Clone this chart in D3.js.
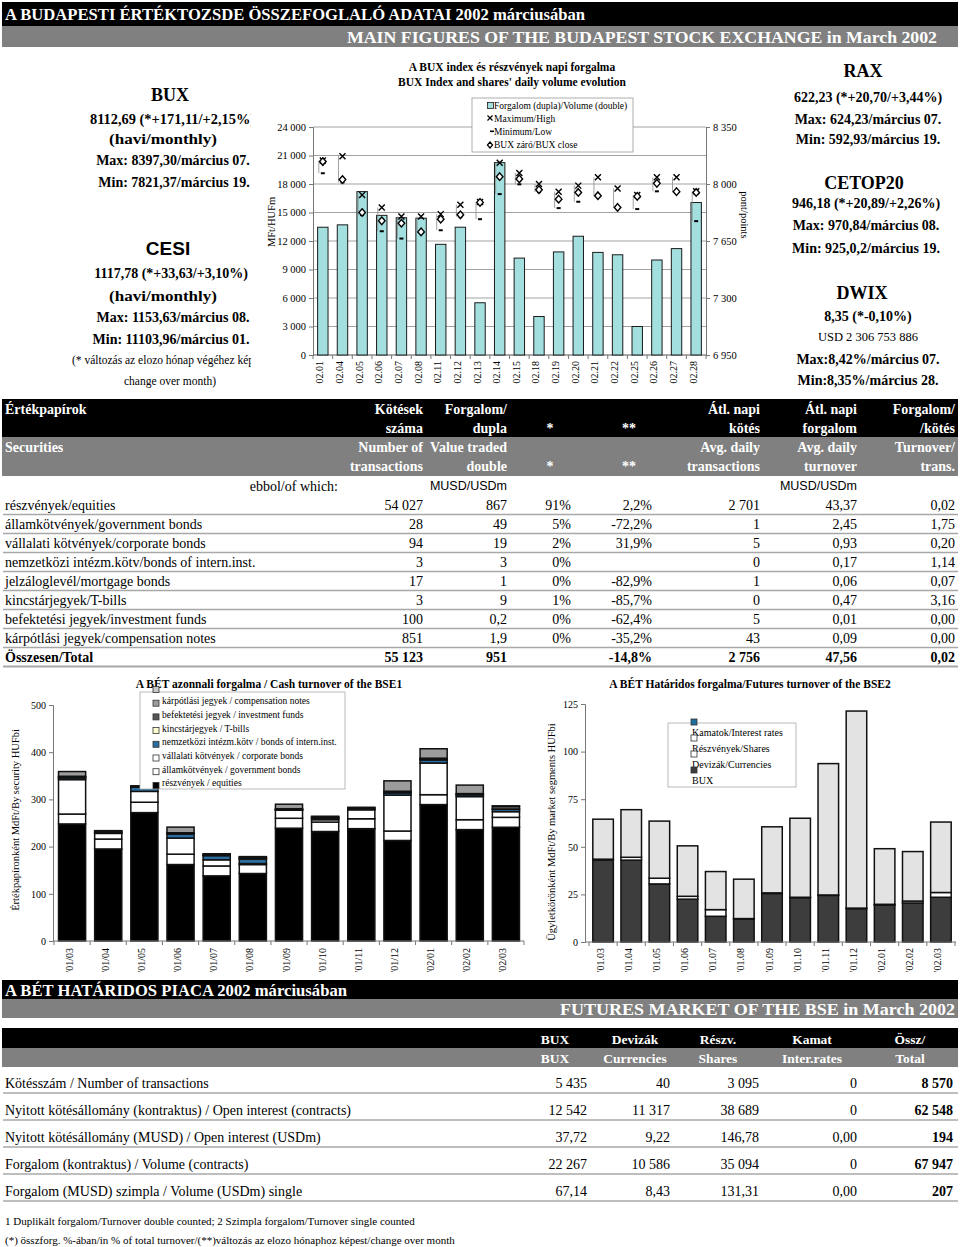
<!DOCTYPE html>
<html><head><meta charset="utf-8">
<script src="https://cdn.jsdelivr.net/npm/d3@7"></script>
<style>body{margin:0;background:#fff} svg{display:block}</style>
</head><body>
<svg id="c" width="960" height="1247"></svg>
<script>
// ---------- DATA ----------
const days = ["02.01","02.04","02.05","02.06","02.07","02.08","02.11","02.12","02.13","02.14","02.15","02.18","02.19","02.20","02.21","02.22","02.25","02.26","02.27","02.28"];
const volume = [13450,13700,17200,14700,14450,14400,11650,13450,5500,20250,10200,4050,10850,12500,10800,10550,3000,10000,11200,16050];
const buxHigh = [8144,8171,7932,7856,7800,7800,7815,7873,7890,8130,8068,8000,7953,7990,8041,7973,7932,8041,8041,7955];
const buxLow = [8066,8010,7809,7710,7665,7705,7716,7800,7784,7938,7998,7950,7852,7891,7925,7855,7846,7955,7950,7772];
const buxClose = [8138,8027,7825,7774,7759,7706,7784,7811,7887,8045,8031,7965,7907,7948,7928,7856,7924,8004,7953,7948];
const volTicks = [0,3000,6000,9000,12000,15000,18000,21000,24000];
const ptTicks = [6950,7300,7650,8000,8350];

const cashMonths = ["'01/03","'01/04","'01/05","'01/06","'01/07","'01/08","'01/09","'01/10","'01/11","'01/12","'02/01","'02/02","'02/03"];
const cashEquities = [248,195,272,162,138,143,239,232,238,213,289,236,241];
const cashGovBonds = [21,21,22,22,21,19,21,20,21,20,21,21,21];
const cashCorpBonds = [73,12,23,34,13,2,17,5,19,76,67,49,12];
const cashIntlBonds = [4,2,9,9,9,10,1,3,1,5,7,4,5];
const cashTBills = [0.5,0.3,0.3,0.3,0.3,0.3,0.3,0.3,0.3,0.3,0.3,0.3,0.3];
const cashFunds = [2.5,2,1.5,2,2.5,3.5,2,2.5,3,3,3,2,6];
const cashComp = [10,1.5,1,12,1,1,9.5,1.5,1,22,20,18,1];
const cashLegend = ["","kárpótlási jegyek / compensation notes","befektetési jegyek / investment funds","kincstárjegyek / T-bills","nemzetközi intézm.kötv / bonds of intern.inst.","vállalati kötvények / corporate bonds","államkötvények / government bonds","részvények / equities"];
const cashTicks = [0,100,200,300,400,500];

const futMonths = ["'01.03","'01.04","'01.05","'01.06","'01.07","'01.08","'01.09","'01.10","'01.11","'01.12","'02.01","'02.02","'02.03"];
const futBux = [43,43,30.5,22.5,13.5,12,25.5,23.3,24.5,17.5,19.5,20.5,23.5];
const futCurrencies = [0.5,1.5,3,1.5,3.5,0.3,0.3,0.2,0.2,0.3,0.3,1,2.5];
const futShares = [21,25,30,26.5,20,20.7,34.7,41.5,69,103.5,29.2,26,37];
const futRates = [0,0,0,0,0,0,0,0,0,0,0,0,0];
const futLegend = ["Kamatok/Interest rates","Részvények/Shares","Devizák/Currencies","BUX"];
const futTicks = [0,25,50,75,100,125];

const secLabels = ["részvények/equities","államkötvények/government bonds","vállalati kötvények/corporate bonds","nemzetközi intézm.kötv/bonds of intern.inst.","jelzáloglevél/mortgage bonds","kincstárjegyek/T-bills","befektetési jegyek/investment funds","kárpótlási jegyek/compensation notes","Összesen/Total"];
const secTrans = ["54 027","28","94","3","17","3","100","851","55 123"];
const secValue = ["867","49","19","3","1","9","0,2","1,9","951"];
const secShare = ["91%","5%","2%","0%","0%","1%","0%","0%",""];
const secChange = ["2,2%","-72,2%","31,9%","","-82,9%","-85,7%","-62,4%","-35,2%","-14,8%"];
const secAvgTrans = ["2 701","1","5","0","1","0","5","43","2 756"];
const secAvgTurn = ["43,37","2,45","0,93","0,17","0,06","0,47","0,01","0,09","47,56"];
const secTurnPerTrans = ["0,02","1,75","0,20","1,14","0,07","3,16","0,00","0,00","0,02"];

const futRowLabels = ["Kötésszám / Number of transactions","Nyitott kötésállomány (kontraktus) / Open interest (contracts)","Nyitott kötésállomány (MUSD) / Open interest (USDm)","Forgalom (kontraktus) / Volume (contracts)","Forgalom (MUSD) szimpla / Volume (USDm) single"];
const futColBux = ["5 435","12 542","37,72","22 267","67,14"];
const futColCur = ["40","11 317","9,22","10 586","8,43"];
const futColShares = ["3 095","38 689","146,78","35 094","131,31"];
const futColRates = ["0","0","0,00","0","0,00"];
const futColTotal = ["8 570","62 548","194","67 947","207"];

// ---------- HELPERS ----------
const SERIF = "'Liberation Serif','Times New Roman',serif";
const SANS = "'Liberation Sans',Arial,sans-serif";
const svg = d3.select("#c");
function txt(g, x, y, s, o = {}) {
  const t = g.append("text").attr("x", x).attr("y", y).text(s)
    .attr("font-family", o.family || SERIF).attr("font-size", o.size || 14)
    .attr("font-weight", o.weight || "normal").attr("fill", o.fill || "#000")
    .attr("text-anchor", o.anchor || "start").attr("dominant-baseline", "central");
  if (o.len) t.attr("textLength", o.len).attr("lengthAdjust", "spacingAndGlyphs");
  if (o.rot) t.attr("transform", `rotate(${o.rot},${x},${y})`);
  return t;
}
const spaceFmt = d => d3.format(",")(d).replace(/,/g, " ");

// ---------- HEADER ----------
svg.append("rect").attr("x", 2).attr("y", 2).attr("width", 956).attr("height", 24).attr("fill", "#000");
svg.append("rect").attr("x", 2).attr("y", 26).attr("width", 956).attr("height", 21).attr("fill", "#808080");
txt(svg, 5, 14.5, "A BUDAPESTI ÉRTÉKTOZSDE ÖSSZEFOGLALÓ ADATAI 2002 márciusában", {size: 17, weight: "bold", fill: "#fff", len: 580});
txt(svg, 937, 37, "MAIN FIGURES OF  THE BUDAPEST STOCK EXCHANGE in March 2002", {size: 17, weight: "bold", fill: "#fff", anchor: "end", len: 590});

// ---------- LEFT INDEX BLOCK ----------
svg.append("clipPath").attr("id", "lclip").append("rect").attr("x", 0).attr("y", 60).attr("width", 251).attr("height", 340);
const lb = svg.append("g").attr("clip-path", "url(#lclip)");
txt(lb, 170, 95, "BUX", {size: 18, weight: "bold", anchor: "middle"});
txt(lb, 90, 119, "8112,69 (*+171,11/+2,15%)", {size: 14.4, weight: "bold"});
txt(lb, 163, 139, "(havi/monthly)", {size: 14.5, weight: "bold", anchor: "middle", len: 108});
txt(lb, 173, 160.5, "Max: 8397,30/március 07.", {size: 14, weight: "bold", anchor: "middle"});
txt(lb, 174, 182, "Min: 7821,37/március 19.", {size: 14, weight: "bold", anchor: "middle"});
txt(lb, 168, 248, "CESI", {size: 19, weight: "bold", anchor: "middle", family: SANS});
txt(lb, 171, 273.5, "1117,78 (*+33,63/+3,10%)", {size: 14, weight: "bold", anchor: "middle"});
txt(lb, 163, 295.5, "(havi/monthly)", {size: 14.5, weight: "bold", anchor: "middle", len: 108});
txt(lb, 173, 317, "Max: 1153,63/március 08.", {size: 14, weight: "bold", anchor: "middle"});
txt(lb, 171, 339, "Min: 11103,96/március 01.", {size: 14, weight: "bold", anchor: "middle"});
txt(lb, 72, 360, "(* változás az elozo hónap végéhez képest/", {size: 11.5});
txt(lb, 170, 381, "change over month)", {size: 11.5, anchor: "middle"});

// ---------- RIGHT INDEX BLOCK ----------
const rb = svg.append("g");
const rcx = 866;
txt(rb, rcx - 3, 71, "RAX", {size: 18, weight: "bold", anchor: "middle"});
txt(rb, rcx + 2, 97, "622,23 (*+20,70/+3,44%)", {size: 14, weight: "bold", anchor: "middle"});
txt(rb, rcx + 2, 119.5, "Max: 624,23/március 07.", {size: 14, weight: "bold", anchor: "middle"});
txt(rb, rcx + 2, 139.5, "Min: 592,93/március 19.", {size: 14, weight: "bold", anchor: "middle"});
txt(rb, rcx - 2, 182.5, "CETOP20", {size: 18, weight: "bold", anchor: "middle"});
txt(rb, rcx, 203.5, "946,18 (*+20,89/+2,26%)", {size: 14, weight: "bold", anchor: "middle"});
txt(rb, rcx, 225, "Max: 970,84/március 08.", {size: 14, weight: "bold", anchor: "middle"});
txt(rb, rcx, 248, "Min: 925,0,2/március 19.", {size: 14, weight: "bold", anchor: "middle"});
txt(rb, rcx - 4, 293, "DWIX", {size: 18, weight: "bold", anchor: "middle"});
txt(rb, rcx + 2, 316, "8,35 (*-0,10%)", {size: 14, weight: "bold", anchor: "middle"});
txt(rb, rcx + 2, 337, "USD 2 306 753 886", {size: 12.5, anchor: "middle"});
txt(rb, rcx + 2, 359.5, "Max:8,42%/március 07.", {size: 14, weight: "bold", anchor: "middle"});
txt(rb, rcx + 2, 380.5, "Min:8,35%/március 28.", {size: 14, weight: "bold", anchor: "middle"});

// ---------- TOP CHART ----------
const tc = svg.append("g");
const x1 = d3.scaleBand().domain(days).range([313, 706]).paddingInner(0.47).paddingOuter(0.235);
const yV = d3.scaleLinear().domain([0, 24000]).range([355, 127]);
const yP = d3.scaleLinear().domain([6950, 8350]).range([355, 127]);
txt(tc, 512, 67, "A BUX index és részvények napi forgalma", {size: 11.5, weight: "bold", anchor: "middle"});
txt(tc, 512, 81.5, "BUX Index and shares' daily volume evolution", {size: 11.5, weight: "bold", anchor: "middle"});
tc.append("g").selectAll("line").data(volTicks.filter(d => d > 0)).join("line")
  .attr("x1", 313).attr("x2", 706).attr("y1", d => yV(d)).attr("y2", d => yV(d))
  .attr("stroke", "#8a8a8a").attr("stroke-width", 0.8);
const axL = tc.append("g").attr("transform", "translate(313,0)")
  .call(d3.axisLeft(yV).tickValues(volTicks).tickFormat(spaceFmt).tickSize(4).tickPadding(3));
const axR = tc.append("g").attr("transform", "translate(706,0)")
  .call(d3.axisRight(yP).tickValues(ptTicks).tickFormat(spaceFmt).tickSize(4).tickPadding(3));
[axL, axR].forEach(a => {
  a.selectAll("path,line").attr("stroke", "#777");
  a.selectAll("text").attr("font-family", SERIF).attr("font-size", 10.5).attr("fill", "#000");
});
tc.append("line").attr("x1", 313).attr("x2", 706).attr("y1", 355).attr("y2", 355).attr("stroke", "#555");
tc.append("g").selectAll("line").data(days.concat(["_end"])).join("line")
  .attr("x1", (d, i) => 313 + i * x1.step()).attr("x2", (d, i) => 313 + i * x1.step())
  .attr("y1", 355).attr("y2", 359).attr("stroke", "#777");
tc.append("g").selectAll("text").data(days).join("text")
  .attr("transform", d => `translate(${x1(d) + x1.bandwidth() / 2 - 3},361) rotate(-90)`)
  .attr("text-anchor", "end").attr("dominant-baseline", "central")
  .attr("font-family", SERIF).attr("font-size", 10).text(d => d);
txt(tc, 271, 222, "MFt/HUFm", {size: 10.5, anchor: "middle", rot: -90});
txt(tc, 744, 215, "pont/points", {size: 10.5, anchor: "middle", rot: 90});
// bars
tc.append("g").selectAll("rect").data(days).join("rect")
  .attr("x", d => x1(d)).attr("width", x1.bandwidth())
  .attr("y", (d, i) => yV(volume[i])).attr("height", (d, i) => 355 - yV(volume[i]))
  .attr("fill", "#a3dfdf").attr("stroke", "#1a1a1a").attr("stroke-width", 1);
// hi-lo lines
const cx1 = d => x1(d) + x1.bandwidth() / 2;
tc.append("g").selectAll("line").data(days).join("line")
  .attr("x1", d => cx1(d) - 4).attr("x2", d => cx1(d) - 4)
  .attr("y1", (d, i) => yP(buxHigh[i])).attr("y2", (d, i) => yP(buxLow[i]))
  .attr("stroke", "#8a8a8a").attr("stroke-width", 0.8);
tc.append("g").selectAll("path").data(days).join("path")
  .attr("transform", (d, i) => `translate(${cx1(d)},${yP(buxHigh[i])})`)
  .attr("d", "M-3,-3L3,3M-3,3L3,-3").attr("stroke", "#000").attr("stroke-width", 1.4).attr("fill", "none");
tc.append("g").selectAll("rect").data(days).join("rect")
  .attr("x", d => cx1(d) - 2).attr("width", 4)
  .attr("y", (d, i) => yP(buxLow[i]) - 1).attr("height", 2).attr("fill", "#000");
tc.append("g").selectAll("path").data(days).join("path")
  .attr("transform", (d, i) => `translate(${cx1(d)},${yP(buxClose[i])})`)
  .attr("d", "M0,-3.8L3.3,0L0,3.8L-3.3,0Z").attr("stroke", "#000").attr("stroke-width", 1.4).attr("fill", "#fff");
// legend
const lg = tc.append("g");
lg.append("rect").attr("x", 472).attr("y", 98).attr("width", 161).attr("height", 54).attr("fill", "#fff").attr("stroke", "#999").attr("stroke-width", 0.8);
lg.append("rect").attr("x", 487.5).attr("y", 102.5).attr("width", 6).attr("height", 6).attr("fill", "#a3dfdf").attr("stroke", "#1a1a1a").attr("stroke-width", 0.8);
txt(lg, 494, 106, "Forgalom (dupla)/Volume (double)", {size: 9.5});
lg.append("path").attr("transform", "translate(490,118)").attr("d", "M-2.5,-2.5L2.5,2.5M-2.5,2.5L2.5,-2.5").attr("stroke", "#000").attr("stroke-width", 1.2);
txt(lg, 494, 118.5, "Maximum/High", {size: 9.5});
lg.append("rect").attr("x", 490).attr("y", 130.5).attr("width", 4).attr("height", 1.6).attr("fill", "#000");
txt(lg, 494, 131.5, "Minimum/Low", {size: 9.5});
lg.append("path").attr("transform", "translate(490,145)").attr("d", "M0,-3L2.6,0L0,3L-2.6,0Z").attr("stroke", "#000").attr("stroke-width", 1.2).attr("fill", "#fff");
txt(lg, 494, 145, "BUX záró/BUX close", {size: 9.5});

// ---------- TABLE 1 ----------
const t1 = svg.append("g");
t1.append("rect").attr("x", 2).attr("y", 399).attr("width", 956).attr("height", 38).attr("fill", "#000");
t1.append("rect").attr("x", 2).attr("y", 437).attr("width", 956).attr("height", 39).attr("fill", "#808080");
const colR = [423, 507, 571, 652, 760, 857, 955];
const hw = {size: 14, weight: "bold", fill: "#fff", anchor: "end"};
txt(t1, 5, 409.5, "Értékpapírok", {size: 14, weight: "bold", fill: "#fff"});
txt(t1, colR[0], 409.5, "Kötések", hw); txt(t1, colR[0], 428.5, "száma", hw);
txt(t1, colR[1], 409.5, "Forgalom/", hw); txt(t1, colR[1], 428.5, "dupla", hw);
txt(t1, 550, 428.5, "*", {...hw, anchor: "middle"}); txt(t1, 629, 428.5, "**", {...hw, anchor: "middle"});
txt(t1, colR[4], 409.5, "Átl. napi", hw); txt(t1, colR[4], 428.5, "kötés", hw);
txt(t1, colR[5], 409.5, "Átl. napi", hw); txt(t1, colR[5], 428.5, "forgalom", hw);
txt(t1, colR[6], 409.5, "Forgalom/", hw); txt(t1, colR[6], 428.5, "/kötés", hw);
txt(t1, 5, 447.5, "Securities", {size: 14, weight: "bold", fill: "#fff"});
txt(t1, colR[0], 447.5, "Number of", hw); txt(t1, colR[0], 466.5, "transactions", hw);
txt(t1, colR[1], 447.5, "Value traded", hw); txt(t1, colR[1], 466.5, "double", hw);
txt(t1, 550, 466.5, "*", {...hw, anchor: "middle"}); txt(t1, 629, 466.5, "**", {...hw, anchor: "middle"});
txt(t1, colR[4], 447.5, "Avg. daily", hw); txt(t1, colR[4], 466.5, "transactions", hw);
txt(t1, colR[5], 447.5, "Avg. daily", hw); txt(t1, colR[5], 466.5, "turnover", hw);
txt(t1, colR[6], 447.5, "Turnover/", hw); txt(t1, colR[6], 466.5, "trans.", hw);
txt(t1, 338, 486, "ebbol/of which:", {size: 14, anchor: "end"});
txt(t1, colR[1], 486, "MUSD/USDm", {size: 12.5, anchor: "end", family: SANS});
txt(t1, colR[5], 486, "MUSD/USDm", {size: 12.5, anchor: "end", family: SANS});
const secCols = [secTrans, secValue, secShare, secChange, secAvgTrans, secAvgTurn, secTurnPerTrans];
secLabels.forEach((lab, i) => {
  const y = 505 + i * 19;
  const bold = i === secLabels.length - 1;
  const o = {size: 14, weight: bold ? "bold" : "normal"};
  txt(t1, 5, y, lab, o);
  secCols.forEach((col, j) => txt(t1, colR[j], y, col[i], {...o, anchor: "end"}));
  t1.append("line").attr("x1", 3).attr("x2", 958).attr("y1", y + 9.5).attr("y2", y + 9.5)
    .attr("stroke", "#a8a8a8").attr("stroke-width", bold ? 2.2 : 1.6);
});

// ---------- CASH CHART ----------
const cc = svg.append("g");
const x2 = d3.scaleBand().domain(cashMonths).range([54, 524]).paddingInner(0.25).paddingOuter(0.125);
const y2 = d3.scaleLinear().domain([0, 500]).range([941, 705]);
txt(cc, 269, 683.5, "A BÉT azonnali forgalma / Cash turnover of the BSE1", {size: 11.5, weight: "bold", anchor: "middle"});
const cashKeys = ["eq", "gov", "corp", "intl", "tb", "fund", "comp"];
const cashColors = {eq: "#000", gov: "#fff", corp: "#fff", intl: "#2b6e9e", tb: "#ffffd2", fund: "#555", comp: "#9c9c9c"};
const cashRows = cashMonths.map((m, i) => ({m, eq: cashEquities[i], gov: cashGovBonds[i], corp: cashCorpBonds[i], intl: cashIntlBonds[i], tb: cashTBills[i], fund: cashFunds[i], comp: cashComp[i]}));
const cashStack = d3.stack().keys(cashKeys)(cashRows);
cc.append("g").selectAll("g").data(cashStack).join("g").attr("fill", d => cashColors[d.key])
  .selectAll("rect").data(d => d).join("rect")
  .attr("x", d => x2(d.data.m)).attr("width", x2.bandwidth())
  .attr("y", d => y2(d[1])).attr("height", d => y2(d[0]) - y2(d[1]))
  .attr("stroke", "#111").attr("stroke-width", 1.5);
const ax2 = cc.append("g").attr("transform", "translate(53,0)").call(d3.axisLeft(y2).tickValues(cashTicks).tickSize(4).tickPadding(3));
ax2.selectAll("path,line").attr("stroke", "#777");
ax2.selectAll("text").attr("font-family", SERIF).attr("font-size", 10).attr("fill", "#000");
cc.append("line").attr("x1", 53).attr("x2", 524).attr("y1", 941).attr("y2", 941).attr("stroke", "#777");
cc.append("g").selectAll("line").data(cashMonths.concat(["_"])).join("line")
  .attr("x1", (d, i) => 54 + i * x2.step()).attr("x2", (d, i) => 54 + i * x2.step())
  .attr("y1", 941).attr("y2", 945).attr("stroke", "#777");
cc.append("g").selectAll("text").data(cashMonths).join("text")
  .attr("transform", d => `translate(${x2(d) + x2.bandwidth() / 2 - 3},948) rotate(-90)`)
  .attr("text-anchor", "end").attr("dominant-baseline", "central")
  .attr("font-family", SERIF).attr("font-size", 10).text(d => d);
txt(cc, 15, 820, "Értékpapíronként MdFt/By security HUFbi", {size: 10.5, anchor: "middle", rot: -90});
// legend
const cl = cc.append("g");
cl.append("rect").attr("x", 140).attr("y", 692).attr("width", 205).attr("height", 97).attr("fill", "#fff").attr("stroke", "#aaa").attr("stroke-width", 0.8);
const cashLegColors = ["#c8c8c8", "#9c9c9c", "#555", "#ffffd2", "#2b6e9e", "#fff", "#fff", "#000"];
cashLegend.forEach((name, i) => {
  const y = 688.5 + i * 13.7;
  cl.append("rect").attr("x", 153).attr("y", y - 2).attr("width", 6).attr("height", 6).attr("fill", cashLegColors[i]).attr("stroke", "#333").attr("stroke-width", 0.8);
  if (name) txt(cl, 162, y - 1, name, {size: 9.5});
});

// ---------- FUTURES CHART ----------
const fc = svg.append("g");
const x3 = d3.scaleBand().domain(futMonths).range([589, 955]).paddingInner(0.27).paddingOuter(0.135);
const y3 = d3.scaleLinear().domain([0, 125]).range([942, 704]);
txt(fc, 750, 683.5, "A BÉT Határidos forgalma/Futures turnover of the BSE2", {size: 11.5, weight: "bold", anchor: "middle"});
const futKeys = ["bux", "cur", "sh", "ir"];
const futColors = {bux: "#3d3d3d", cur: "#fff", sh: "#e3e3e3", ir: "#1f6e9e"};
const futRowsData = futMonths.map((m, i) => ({m, bux: futBux[i], cur: futCurrencies[i], sh: futShares[i], ir: futRates[i]}));
const futStack = d3.stack().keys(futKeys)(futRowsData);
fc.append("g").selectAll("g").data(futStack).join("g").attr("fill", d => futColors[d.key])
  .selectAll("rect").data(d => d.filter(v => v[1] > v[0])).join("rect")
  .attr("x", d => x3(d.data.m)).attr("width", x3.bandwidth())
  .attr("y", d => y3(d[1])).attr("height", d => y3(d[0]) - y3(d[1]))
  .attr("stroke", "#111").attr("stroke-width", 1.5);
const ax3 = fc.append("g").attr("transform", "translate(585,0)").call(d3.axisLeft(y3).tickValues(futTicks).tickSize(4).tickPadding(3));
ax3.selectAll("path,line").attr("stroke", "#777");
ax3.selectAll("text").attr("font-family", SERIF).attr("font-size", 10).attr("fill", "#000");
fc.append("line").attr("x1", 585).attr("x2", 956).attr("y1", 942).attr("y2", 942).attr("stroke", "#777");
fc.append("g").selectAll("line").data(futMonths.concat(["_"])).join("line")
  .attr("x1", (d, i) => 589 + i * x3.step()).attr("x2", (d, i) => 589 + i * x3.step())
  .attr("y1", 942).attr("y2", 946).attr("stroke", "#777");
fc.append("g").selectAll("text").data(futMonths).join("text")
  .attr("transform", d => `translate(${x3(d) + x3.bandwidth() / 2 - 3},948) rotate(-90)`)
  .attr("text-anchor", "end").attr("dominant-baseline", "central")
  .attr("font-family", SERIF).attr("font-size", 10).text(d => d);
txt(fc, 551, 832, "Ügyletkörönként MdFt/By market segments HUFbi", {size: 10.5, anchor: "middle", rot: -90});
const fl = fc.append("g");
fl.append("rect").attr("x", 668).attr("y", 723).attr("width", 128).attr("height", 64).attr("fill", "#fff").attr("stroke", "#aaa").attr("stroke-width", 0.8);
const futLegColors = ["#1f6e9e", "#fff", "#fff", "#3d3d3d"];
futLegend.forEach((name, i) => {
  const y = 719 + i * 16;
  fl.append("rect").attr("x", 691).attr("y", y).attr("width", 6).attr("height", 6).attr("fill", futLegColors[i]).attr("stroke", "#333").attr("stroke-width", 0.8);
  txt(fl, 692, y + 13, name, {size: 10});
});

// ---------- FUTURES TABLE ----------
const t2 = svg.append("g");
t2.append("rect").attr("x", 2).attr("y", 980).attr("width", 956).attr("height", 19).attr("fill", "#000");
t2.append("rect").attr("x", 2).attr("y", 999).attr("width", 956).attr("height", 19).attr("fill", "#808080");
txt(t2, 5, 990, "A BÉT HATÁRIDOS PIACA 2002 márciusában", {size: 17, weight: "bold", fill: "#fff", len: 342});
txt(t2, 955, 1009, "FUTURES MARKET OF THE BSE in March 2002", {size: 17, weight: "bold", fill: "#fff", anchor: "end", len: 395});
t2.append("rect").attr("x", 2).attr("y", 1028).attr("width", 956).attr("height", 20).attr("fill", "#000");
t2.append("rect").attr("x", 2).attr("y", 1048).attr("width", 956).attr("height", 19).attr("fill", "#808080");
const hcx = [555, 635, 718, 812, 910];
const hTop = ["BUX", "Devizák", "Részv.", "Kamat", "Össz/"];
const hBot = ["BUX", "Currencies", "Shares", "Inter.rates", "Total"];
hcx.forEach((x, i) => {
  txt(t2, x, 1039, hTop[i], {size: 13.5, weight: "bold", fill: "#fff", anchor: "middle"});
  txt(t2, x, 1058, hBot[i], {size: 13.5, weight: "bold", fill: "#fff", anchor: "middle"});
});
const fR = [587, 670, 759, 857, 953];
const futCols = [futColBux, futColCur, futColShares, futColRates, futColTotal];
futRowLabels.forEach((lab, i) => {
  const y = 1083.5 + i * 27;
  txt(t2, 5, y, lab, {size: 14});
  futCols.forEach((col, j) => txt(t2, fR[j], y, col[i], {size: 14, anchor: "end", weight: j === 4 ? "bold" : "normal"}));
  t2.append("line").attr("x1", 3).attr("x2", 958).attr("y1", y + 9.5).attr("y2", y + 9.5).attr("stroke", "#a8a8a8").attr("stroke-width", 1.6);
});
txt(t2, 5, 1220.5, "1 Duplikált forgalom/Turnover double counted; 2 Szimpla forgalom/Turnover single counted", {size: 11});
txt(t2, 5, 1239.5, "(*) összforg. %-ában/in % of total turnover/(**)változás az elozo hónaphoz képest/change over month", {size: 11});
</script>
</body></html>
